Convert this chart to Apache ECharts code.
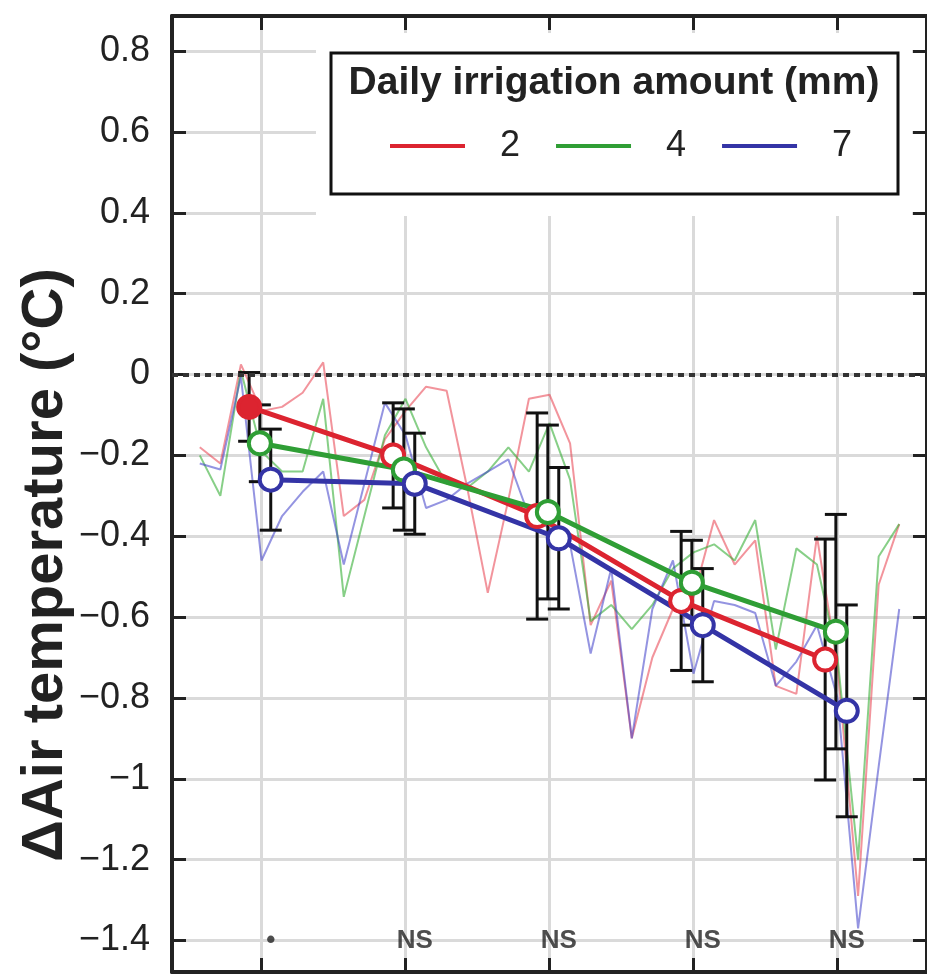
<!DOCTYPE html>
<html>
<head>
<meta charset="utf-8">
<title>Air temperature difference</title>
<script src="https://cdn.jsdelivr.net/npm/echarts@6/dist/echarts.min.js"></script>
<style>
  html, body { margin: 0; padding: 0; background: #fff; }
  #chart { width: 927px; height: 976px; }
</style>
</head>
<body>
<div id="chart"></div>
<script>
// daily series (day 0 = first sampling date)
const days = [-3, -2, -1, 0, 1, 2, 3, 4, 5, 6, 7, 8, 9, 10, 11, 12, 13, 14, 15, 16,
  17, 18, 19, 20, 21, 22, 23, 24, 25, 26, 27, 28, 29, 30, 31];
const daily2 = [-0.18, -0.22, 0.025, -0.09, -0.08, -0.045, 0.03, -0.35, -0.31, -0.16,
  -0.09, -0.03, -0.04, -0.28, -0.54, -0.31, -0.06, -0.05, -0.17, -0.62,
  -0.51, -0.90, -0.70, -0.58, -0.55, -0.36, -0.47, -0.41, -0.77, -0.79,
  -0.40, -0.72, -1.29, -0.52, -0.37];
const daily4 = [-0.20, -0.30, 0.01, -0.19, -0.24, -0.24, -0.06, -0.55, -0.35, -0.15,
  -0.06, -0.18, -0.27, -0.28, -0.24, -0.18, -0.24, -0.12, -0.26, -0.61,
  -0.57, -0.63, -0.57, -0.48, -0.44, -0.42, -0.46, -0.36, -0.68, -0.43,
  -0.47, -0.70, -1.20, -0.45, -0.37];
const daily7 = [-0.22, -0.235, -0.005, -0.46, -0.35, -0.29, -0.24, -0.47, -0.27, -0.07,
  -0.15, -0.33, -0.31, -0.27, -0.24, -0.21, -0.35, -0.38, -0.42, -0.69,
  -0.48, -0.90, -0.58, -0.46, -0.74, -0.56, -0.57, -0.59, -0.77, -0.71,
  -0.62, -0.80, -1.37, -0.97, -0.58];

// weekly means and standard deviations
const weeks = [0, 7, 14, 21, 28];
const mean2 = [-0.08, -0.20, -0.35, -0.56, -0.705];
const sd2 = [0.085, 0.13, 0.255, 0.172, 0.298];
const mean4 = [-0.17, -0.235, -0.34, -0.515, -0.636];
const sd4 = [0.095, 0.15, 0.215, 0.105, 0.29];
const mean7 = [-0.26, -0.27, -0.405, -0.62, -0.832];
const sd7 = [0.125, 0.125, 0.175, 0.14, 0.262];
const sigLabels = ['•', 'NS', 'NS', 'NS', 'NS'];
const amounts = ['2', '4', '7'];

const FONT = '"Liberation Sans", Arial, sans-serif';
const INK = '#222';
const colors = { '2': '#dc2430', '4': '#2f9e35', '7': '#3434a6' };
const thinColors = {
  '2': 'rgba(232, 60, 75, 0.55)',
  '4': 'rgba(55, 175, 55, 0.6)',
  '7': 'rgba(60, 60, 200, 0.55)'
};
const dodge = { '2': -0.6, '4': -0.08, '7': 0.45 };

const chart = echarts.init(document.getElementById('chart'));

const fmtTick = (v) => {
  if (Math.abs(v * 5 - Math.round(v * 5)) > 1e-6) return '';
  const r = Math.round(v * 10) / 10;
  return r < 0 ? '\u2212' + String(-r) : String(r);
};

const dailySeries = (name, vals) => ({
  name: 'daily ' + name,
  type: 'line',
  data: days.map((d, i) => [d, vals[i]]),
  symbol: 'none',
  lineStyle: { color: thinColors[name], width: 2 },
  z: 2,
  silent: true
});

const errorSeries = (name, means, sds) => ({
  name: 'sd ' + name,
  type: 'custom',
  data: weeks.map((w, i) => [w + dodge[name], means[i] - sds[i], means[i] + sds[i]]),
  encode: { x: 0, y: [1, 2] },
  z: 3,
  silent: true,
  renderItem: (params, api) => {
    const x = api.value(0);
    const lo = api.coord([x, api.value(1)]);
    const hi = api.coord([x, api.value(2)]);
    const w = 11;
    const style = { stroke: '#111', lineWidth: 3, fill: null };
    return {
      type: 'group',
      children: [
        { type: 'line', shape: { x1: lo[0], y1: lo[1], x2: hi[0], y2: hi[1] }, style },
        { type: 'line', shape: { x1: lo[0] - w, y1: lo[1], x2: lo[0] + w, y2: lo[1] }, style },
        { type: 'line', shape: { x1: hi[0] - w, y1: hi[1], x2: hi[0] + w, y2: hi[1] }, style }
      ]
    };
  }
});

const meanSeries = (name, means) => ({
  name: name,
  type: 'line',
  data: weeks.map((w, i) => {
    const item = { value: [w + dodge[name], means[i]] };
    // first week of the 2 mm treatment is significant: filled marker
    if (name === '2' && i === 0) item.itemStyle = { color: colors[name] };
    return item;
  }),
  symbol: 'circle',
  symbolSize: 22,
  itemStyle: { color: '#fff', borderColor: colors[name], borderWidth: 4 },
  lineStyle: { color: colors[name], width: 5 },
  z: 4,
  silent: true
});

const xCommon = {
  type: 'value',
  min: -4.35,
  max: 32.35,
  minInterval: 7,
  maxInterval: 7,
  axisLine: { show: true, onZero: false, lineStyle: { color: INK, width: 4 } },
  axisTick: { show: true, inside: true, length: 14, lineStyle: { color: INK, width: 3 } },
  axisLabel: { show: false }
};
const yCommon = {
  type: 'value',
  min: -1.478,
  max: 0.887,
  splitNumber: 12,
  minInterval: 0.2,
  maxInterval: 0.2,
  axisLine: { show: true, onZero: false, lineStyle: { color: INK, width: 4 } },
  axisTick: { show: true, inside: true, length: 14, lineStyle: { color: INK, width: 3 } }
};

const option = {
  animation: false,
  backgroundColor: '#fff',
  grid: { left: 172, top: 16, right: -5, bottom: 4, containLabel: false },
  xAxis: [
    Object.assign({}, xCommon, {
      position: 'bottom',
      splitLine: { show: true, lineStyle: { color: '#dadada', width: 3 } }
    }),
    Object.assign({}, xCommon, { position: 'top', splitLine: { show: false } })
  ],
  yAxis: [
    Object.assign({}, yCommon, {
      position: 'left',
      axisLabel: {
        fontSize: 36, fontFamily: FONT, color: INK, margin: 22,
        showMinLabel: false, showMaxLabel: false, formatter: fmtTick
      },
      splitLine: { show: true, lineStyle: { color: '#dadada', width: 3 } }
    }),
    Object.assign({}, yCommon, {
      position: 'right',
      axisLabel: { show: false },
      splitLine: { show: false }
    })
  ],
  legend: {
    data: amounts.map((a) => ({ name: a, itemStyle: { color: colors[a], borderWidth: 0 } })),
    icon: 'rect',
    itemWidth: 75,
    itemHeight: 4,
    itemGap: 36,
    left: 390,
    top: 128,
    padding: 0,
    selectedMode: false,
    z: 20,
    textStyle: { fontSize: 36, fontFamily: FONT, color: INK, padding: [0, 0, 0, 30] }
  },
  graphic: {
    elements: [
      {
        type: 'rect', z: 10, silent: true,
        shape: { x: 316, y: 33, width: 596, height: 183 },
        style: { fill: '#fff' }
      },
      {
        type: 'rect', z: 11, silent: true,
        shape: { x: 331, y: 53, width: 567, height: 141 },
        style: { fill: null, stroke: '#111', lineWidth: 3 }
      },
      {
        type: 'text', z: 11, silent: true, x: 614, y: 83,
        style: {
          text: 'Daily irrigation amount (mm)', fill: INK,
          fontSize: 39, fontWeight: 'bold', fontFamily: FONT,
          align: 'center', verticalAlign: 'middle',
          textAlign: 'center', textVerticalAlign: 'middle'
        }
      },
      {
        type: 'text', z: 11, silent: true, x: 46, y: 565, rotation: Math.PI / 2,
        style: {
          text: '\u0394Air temperature (\u00b0C)', fill: INK,
          fontSize: 58, fontWeight: 'bold', fontFamily: FONT,
          align: 'center', verticalAlign: 'middle',
          textAlign: 'center', textVerticalAlign: 'middle'
        }
      }
    ]
  },
  series: [
    dailySeries('2', daily2),
    dailySeries('4', daily4),
    dailySeries('7', daily7),
    errorSeries('2', mean2, sd2),
    errorSeries('4', mean4, sd4),
    errorSeries('7', mean7, sd7),
    meanSeries('2', mean2),
    meanSeries('4', mean4),
    meanSeries('7', mean7),
    {
      name: 'significance',
      type: 'scatter',
      data: weeks.map((w, i) => [w + 0.45, -1.4, sigLabels[i]]),
      symbolSize: 1,
      itemStyle: { color: 'rgba(0,0,0,0)' },
      silent: true,
      z: 5,
      label: {
        show: true, position: 'inside', formatter: (p) => p.value[2],
        fontSize: 26, fontWeight: 'bold', fontFamily: FONT, color: INK
      },
      markLine: {
        silent: true,
        symbol: 'none',
        label: { show: false },
        lineStyle: { color: '#333', width: 4, type: [6, 5] },
        data: [{ yAxis: 0 }]
      }
    }
  ]
};

chart.setOption(option);
window.addEventListener('resize', () => chart.resize());
</script>
</body>
</html>
